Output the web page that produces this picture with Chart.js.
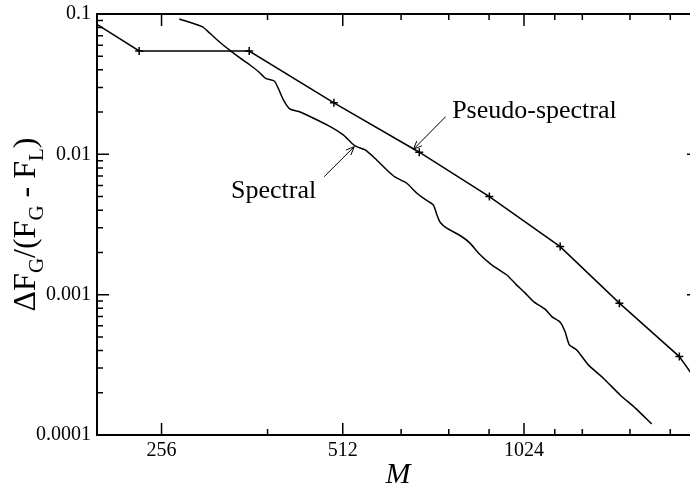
<!DOCTYPE html>
<html>
<head>
<meta charset="utf-8">
<script src="https://cdn.jsdelivr.net/npm/chart.js@4.4.1/dist/chart.umd.min.js"></script>
<style>
  html, body { margin: 0; padding: 0; background: #fff; overflow: hidden; }
  #wrap { width: 700px; height: 484px; }
</style>
</head>
<body>
<div id="wrap"><canvas id="errChart" width="700" height="484"></canvas></div>
<script>
// axis ticks
const xTickValues = [256, 512, 1024];
const xTickLabels = ["256", "512", "1024"];
const xMinorTicks = [384, 640, 768, 896, 1152, 1280, 1536, 1792];
const yTickValues = [0.0001, 0.001, 0.01, 0.1];
const yTickLabels = ["0.0001", "0.001", "0.01", "0.1"];

// Pseudo-spectral (with + markers)
const pseudoM = [180, 235, 358, 495, 686, 897, 1176, 1475, 1855, 2167];
const pseudoErr = [0.112, 0.0545, 0.0545, 0.0233, 0.01035, 0.0050, 0.0022, 0.00087, 0.000362, 0.000142];

// Spectral (plain curve)
const spectralM = [274, 299, 308, 320, 333, 346, 359, 371, 381, 394,
  400, 408, 418, 435, 458, 488, 513, 530, 540, 558,
  583, 606, 626, 654, 680, 697, 724, 734, 743, 762,
  802, 833, 860, 905, 959, 996, 1028, 1062, 1110, 1139,
  1176, 1198, 1218, 1253, 1310, 1387, 1479, 1566, 1669];
const spectralErr = [0.0921, 0.0812, 0.0729, 0.0629, 0.0548, 0.0484, 0.0433, 0.0388, 0.0348, 0.0333,
  0.0296, 0.0244, 0.02105, 0.02005, 0.01807, 0.01575, 0.01374, 0.0120, 0.01134, 0.01075,
  0.00912, 0.00774, 0.00687, 0.00622, 0.00528, 0.00487, 0.00436, 0.0037, 0.00328, 0.00298,
  0.00264, 0.00233, 0.00198, 0.00163, 0.00138, 0.00117, 0.00103, 0.000893, 0.000788, 0.000698,
  0.000637, 0.000546, 0.000439, 0.000404, 0.000316, 0.000254, 0.000193, 0.000156, 0.000120];

// labels with arrows, in data units: text anchor, arrow tail, arrow tip
const noteTexts = ["Pseudo-spectral", "Spectral"];
const noteAt = [[778, 0.01816], [334, 0.00489]];
const arrowFrom = [[759, 0.01856], [477, 0.00694]];
const arrowTo = [[671, 0.01087], [535, 0.01134]];

const SERIF = '"Liberation Serif", "Times New Roman", serif';

function toPoints(xs, ys) {
  return xs.map((x, i) => ({x: x, y: ys[i]}));
}

// no extra room for the tick labels, the layout padding decides the plot box
function noLabelPadding(s) {
  s.paddingLeft = 0; s.paddingRight = 0;
  s.paddingTop = 0; s.paddingBottom = 0;
}

// frame, inward ticks, axis titles and the two notes
const framePlugin = {
  id: "framePlugin",
  afterDraw(chart) {
    const ctx = chart.ctx;
    const a = chart.chartArea;
    const sx = chart.scales.x, sy = chart.scales.y;
    ctx.save();
    ctx.strokeStyle = "#000";
    ctx.lineWidth = 1.5;

    function xTick(v, len) {
      const px = sx.getPixelForValue(v);
      ctx.beginPath();
      ctx.moveTo(px, a.bottom); ctx.lineTo(px, a.bottom - len);
      ctx.moveTo(px, a.top); ctx.lineTo(px, a.top + len);
      ctx.stroke();
    }
    function yTick(v, len) {
      const py = sy.getPixelForValue(v);
      ctx.beginPath();
      ctx.moveTo(a.left, py); ctx.lineTo(a.left + len, py);
      ctx.moveTo(a.right, py); ctx.lineTo(a.right - len, py);
      ctx.stroke();
    }
    xTickValues.forEach(v => xTick(v, 12));
    xMinorTicks.forEach(v => xTick(v, 6));
    yTickValues.forEach(v => yTick(v, 12));
    for (let d = 0; d < yTickValues.length - 1; d++) {
      for (let k = 2; k <= 9; k++) yTick(yTickValues[d] * k, 6);
    }

    ctx.lineWidth = 2;
    ctx.strokeRect(a.left, a.top, a.right - a.left, a.bottom - a.top);

    // notes
    ctx.lineWidth = 1;
    ctx.fillStyle = "#000";
    ctx.font = "26px " + SERIF;
    ctx.textBaseline = "alphabetic";
    ctx.textAlign = "left";
    noteTexts.forEach((t, i) => {
      ctx.fillText(t, sx.getPixelForValue(noteAt[i][0]), sy.getPixelForValue(noteAt[i][1]));
      const x0 = sx.getPixelForValue(arrowFrom[i][0]), y0 = sy.getPixelForValue(arrowFrom[i][1]);
      const x1 = sx.getPixelForValue(arrowTo[i][0]), y1 = sy.getPixelForValue(arrowTo[i][1]);
      const ang = Math.atan2(y1 - y0, x1 - x0);
      ctx.beginPath();
      ctx.moveTo(x0, y0); ctx.lineTo(x1, y1);
      ctx.moveTo(x1 - 9 * Math.cos(ang - 0.4), y1 - 9 * Math.sin(ang - 0.4));
      ctx.lineTo(x1, y1);
      ctx.lineTo(x1 - 9 * Math.cos(ang + 0.4), y1 - 9 * Math.sin(ang + 0.4));
      ctx.stroke();
    });

    // x title
    ctx.font = "italic 30px " + SERIF;
    ctx.textAlign = "center";
    ctx.fillText("M", (a.left + a.right) / 2, 483);

    // y title with subscripts, rotated
    const parts = [["\u0394F", 0], ["G", 1], ["/(F", 0], ["G", 1], [" - F", 0], ["L", 1], [")", 0]];
    const mainFont = "32px " + SERIF, subFont = "21px " + SERIF;
    let total = 0;
    parts.forEach(p => { ctx.font = p[1] ? subFont : mainFont; total += ctx.measureText(p[0]).width; });
    ctx.translate(35, (a.top + a.bottom) / 2);
    ctx.rotate(-Math.PI / 2);
    ctx.textAlign = "left";
    let cx = -total / 2;
    parts.forEach(p => {
      ctx.font = p[1] ? subFont : mainFont;
      ctx.fillText(p[0], cx, p[1] ? 8 : 0);
      cx += ctx.measureText(p[0]).width;
    });
    ctx.restore();
  }
};

const context = document.getElementById("errChart").getContext("2d");
window.myChart = new Chart(context, {
  type: "line",
  data: {
    datasets: [{
      label: "Pseudo-spectral",
      data: toPoints(pseudoM, pseudoErr),
      borderColor: "#000",
      borderWidth: 1.5,
      pointStyle: "cross",
      pointRadius: 4,
      pointBorderWidth: 1.5,
      pointBorderColor: "#000",
      tension: 0
    }, {
      label: "Spectral",
      data: toPoints(spectralM, spectralErr),
      borderColor: "#000",
      borderWidth: 1.5,
      pointRadius: 0,
      tension: 0.2
    }]
  },
  options: {
    responsive: false,
    animation: false,
    devicePixelRatio: 1,
    layout: {autoPadding: false, padding: {left: 0, top: 14, right: 1, bottom: 0}},
    plugins: {legend: {display: false}, tooltip: {enabled: false}},
    scales: {
      x: {
        type: "logarithmic",
        min: 200,
        max: 2000,
        afterBuildTicks: (s) => { s.ticks = xTickValues.map(v => ({value: v})); },
        afterFit: (s) => { s.height = 49; noLabelPadding(s); },
        grid: {display: false, drawTicks: false},
        border: {display: false},
        ticks: {
          autoSkip: false,
          maxRotation: 0,
          padding: 4,
          color: "#000",
          font: {family: SERIF, size: 20},
          callback: (v) => xTickLabels[xTickValues.indexOf(v)]
        }
      },
      y: {
        type: "logarithmic",
        min: 0.0001,
        max: 0.1,
        afterBuildTicks: (s) => { s.ticks = yTickValues.map(v => ({value: v})); },
        afterFit: (s) => { s.width = 97; noLabelPadding(s); },
        grid: {display: false, drawTicks: false},
        border: {display: false},
        ticks: {
          autoSkip: false,
          padding: 6,
          color: "#000",
          font: {family: SERIF, size: 20},
          callback: (v) => yTickLabels[yTickValues.indexOf(v)]
        }
      }
    }
  },
  plugins: [framePlugin]
});
</script>
</body>
</html>
